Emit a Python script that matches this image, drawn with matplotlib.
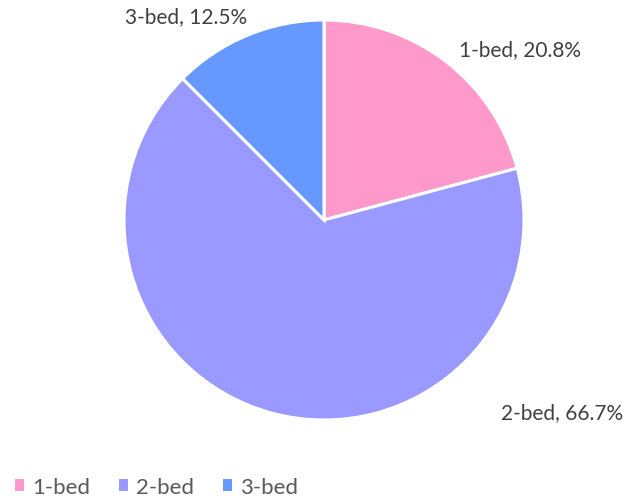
import matplotlib
matplotlib.use("Agg")
import matplotlib.pyplot as plt
from matplotlib.patches import Patch

plt.rcParams['font.family'] = ['Lato', 'DejaVu Sans']

labels = ['1-bed', '2-bed', '3-bed']
counts = [5, 16, 3]
colors = ['#FF99CC', '#9999FF', '#6699FF']
# label anchor points (in pie-radius units), as placed in the original
label_pos = [(0.98, 0.855), (1.19, -0.96), (-0.69, 1.02)]

W, H = 630, 502
cx, cy, r = 324, 221, 200

fig = plt.figure(figsize=(W / 100, H / 100), dpi=100)
ax = fig.add_axes([0, 0, 1, 1])
ax.pie(counts, colors=colors, startangle=90, counterclock=False,
       wedgeprops=dict(edgecolor='white', linewidth=2.2))
ax.set_xlim(-cx / r, (W - cx) / r)
ax.set_ylim(-(H - cy) / r, cy / r)
ax.set_aspect('equal')
ax.axis('off')

total = sum(counts)
for lab, c, (x, y) in zip(labels, counts, label_pos):
    ax.text(x, y, f'{lab}, {100 * c / total:.1f}%', ha='center', va='center',
            fontsize=15, color='#404040')

handles = [Patch(facecolor=col, edgecolor='none') for col in colors]
fig.legend(handles, labels, loc='lower left', bbox_to_anchor=(-0.008, -0.032), ncol=3,
           frameon=False, fontsize=16, labelcolor='#595959',
           handlelength=0.42, handleheight=0.42, handletextpad=0.35, columnspacing=1.3)

fig.savefig('out.png', dpi=100)
